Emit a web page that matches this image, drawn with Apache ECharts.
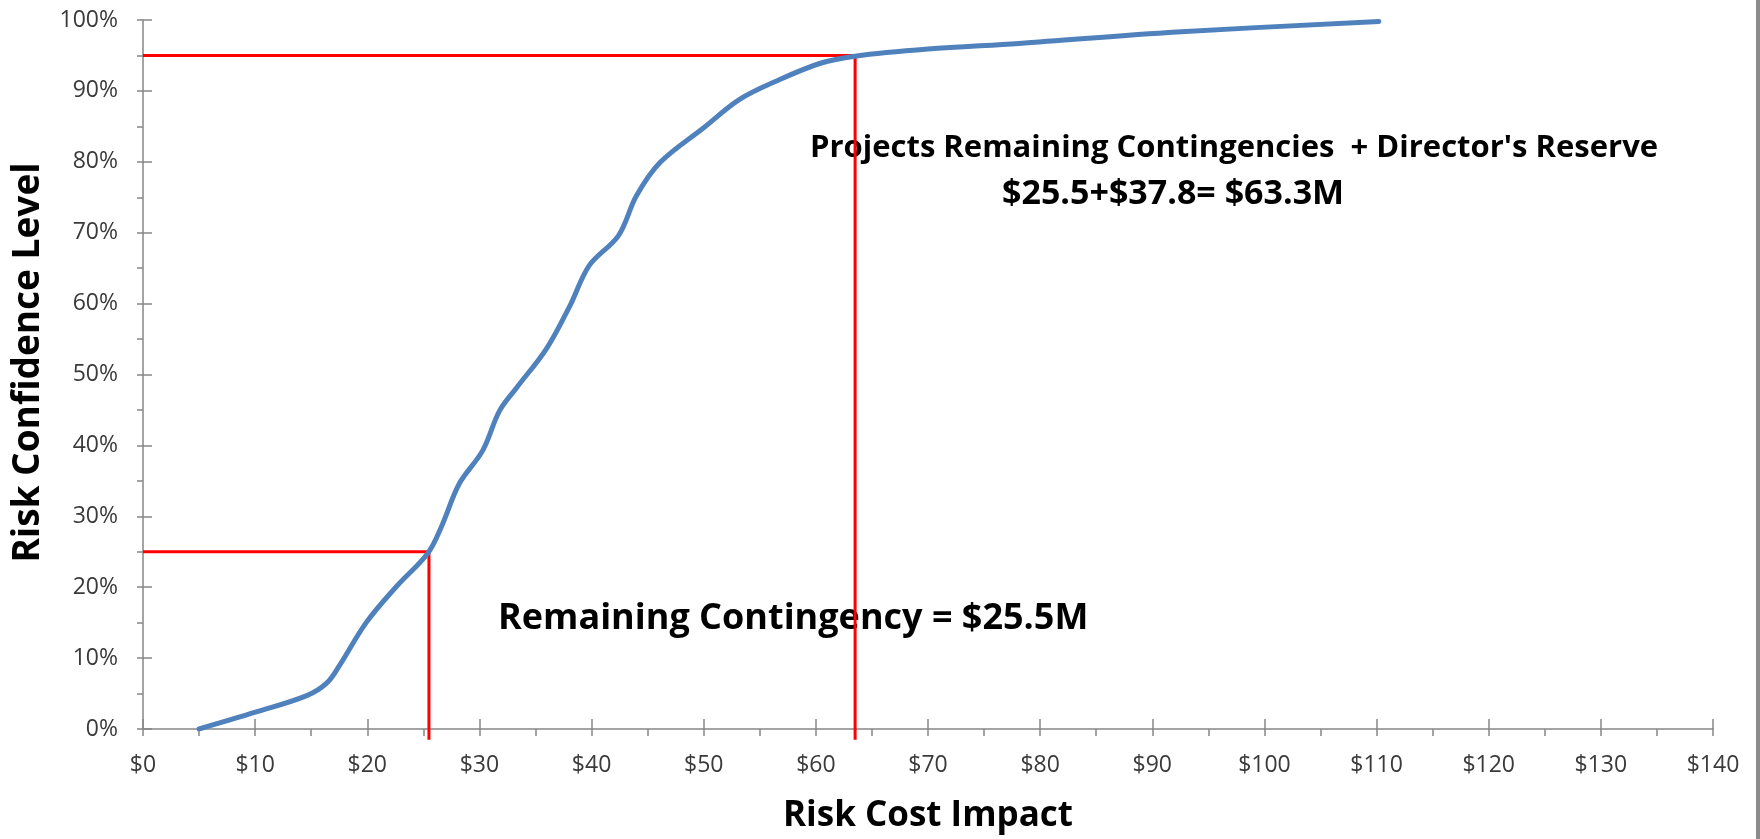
<!DOCTYPE html>
<html>
<head>
<meta charset="utf-8">
<script src="https://cdn.jsdelivr.net/npm/echarts@6/dist/echarts.min.js"></script>
<style>
  html, body { margin: 0; padding: 0; background: #fff; }
  #chart { width: 1760px; height: 839px; }
</style>
</head>
<body>
<div id="chart"></div>
<script>
// S-curve: cost impact ($M) vs confidence level (%)
const costImpact = [5, 10.1, 14.6, 16.4, 17.5, 19.9, 22.6, 25.4, 26.6, 28.2, 30.3, 31.8, 33.3, 36.0, 38.1, 39.8, 42.4, 44.0, 46.1, 50.0, 53.2, 56.5, 60.4, 63.5, 70, 78.1, 92.2, 110.2];
const confidence = [0, 2.4, 4.7, 6.5, 8.9, 15.0, 20.1, 24.8, 28.5, 34.6, 39.3, 44.9, 48.1, 53.7, 59.8, 65.4, 69.6, 75.2, 79.9, 84.8, 88.8, 91.4, 93.9, 94.9, 95.9, 96.7, 98.3, 99.8];

// reference lines (x in $M, y in %)
const contingencyLine = [[0, 25], [25.5, 25], [25.5, -1.5]];
const reserveLine = [[0, 95], [63.5, 95], [63.5, -1.5]];

const xTicks = { min: 0, max: 140, interval: 10 };
const yTicks = { min: 0, max: 100, interval: 10 };

const axisGray = "#868686";
const labelColor = "#3a3a3a";
const font = "'Open Sans', 'Noto Sans', sans-serif";

const chart = echarts.init(document.getElementById("chart"));

const curve = costImpact.map((x, i) => [x, confidence[i]]);

chart.setOption({
  animation: false,
  grid: { left: 143, right: 47, top: 20, bottom: 106, containLabel: false },
  xAxis: [
    {
      type: "value",
      ...xTicks,
      name: "Risk Cost Impact",
      nameLocation: "middle",
      nameGap: 70,
      nameTextStyle: { fontFamily: font, fontWeight: "bold", fontSize: 35, color: "#000" },
      axisLine: { lineStyle: { color: axisGray, width: 1.5 } },
      axisTick: { length: 7, lineStyle: { color: axisGray, width: 1.5 } },
      minorTick: { show: true, splitNumber: 2, length: 7, lineStyle: { color: axisGray, width: 1.5 } },
      splitLine: { show: false },
      axisLabel: {
        margin: 25,
        fontFamily: font,
        fontSize: 23,
        color: labelColor,
        formatter: (v) => "$" + v
      }
    },
    {
      type: "value",
      ...xTicks,
      position: "bottom",
      axisLine: { show: false },
      axisTick: { inside: true, length: 10, lineStyle: { color: axisGray, width: 1.5 } },
      axisLabel: { show: false },
      splitLine: { show: false }
    }
  ],
  yAxis: [
    {
      type: "value",
      ...yTicks,
      name: "Risk Confidence Level",
      nameLocation: "middle",
      nameGap: 96,
      nameTextStyle: {
        fontFamily: font,
        fontWeight: "bold",
        fontSize: 37,
        color: "#000",
        padding: [0, 0, 0, 24]
      },
      axisLine: { show: true, lineStyle: { color: axisGray, width: 1.5 } },
      axisTick: { show: true, length: 6, lineStyle: { color: axisGray, width: 1.5 } },
      minorTick: { show: true, splitNumber: 2, length: 6, lineStyle: { color: axisGray, width: 1.5 } },
      splitLine: { show: false },
      axisLabel: {
        margin: 25,
        fontFamily: font,
        fontSize: 23,
        color: labelColor,
        formatter: (v) => v + "%"
      }
    },
    {
      type: "value",
      ...yTicks,
      position: "left",
      axisLine: { show: false },
      axisTick: { show: true, inside: true, length: 9, lineStyle: { color: axisGray, width: 1.5 } },
      axisLabel: { show: false },
      splitLine: { show: false }
    }
  ],
  series: [
    {
      name: "contingency",
      type: "line",
      data: contingencyLine,
      clip: false,
      symbol: "none",
      lineStyle: { color: "#ff0000", width: 3 },
      z: 3
    },
    {
      name: "reserve",
      type: "line",
      data: reserveLine,
      clip: false,
      symbol: "none",
      lineStyle: { color: "#ff0000", width: 3 },
      z: 3
    },
    {
      name: "S-curve",
      type: "line",
      data: curve,
      smooth: 0.35,
      symbol: "none",
      lineStyle: { color: "#4f81bd", width: 5, cap: "round" },
      z: 4
    }
  ],
  graphic: [
    {
      type: "text",
      left: 810,
      top: 133,
      style: {
        text: "Projects Remaining Contingencies  + Director's Reserve",
        font: "bold 31px " + font,
        fill: "#000"
      }
    },
    {
      type: "text",
      left: 1002,
      top: 177,
      style: {
        text: "$25.5+$37.8= $63.3M",
        font: "bold 34px " + font,
        fill: "#000"
      }
    },
    {
      type: "text",
      left: 498,
      top: 601,
      style: {
        text: "Remaining Contingency = $25.5M",
        font: "bold 36px " + font,
        fill: "#000"
      }
    },
    {
      type: "rect",
      shape: { x: 1756, y: 0, width: 4, height: 839 },
      style: { fill: "#8c8c8c" }
    }
  ]
});
</script>
</body>
</html>
